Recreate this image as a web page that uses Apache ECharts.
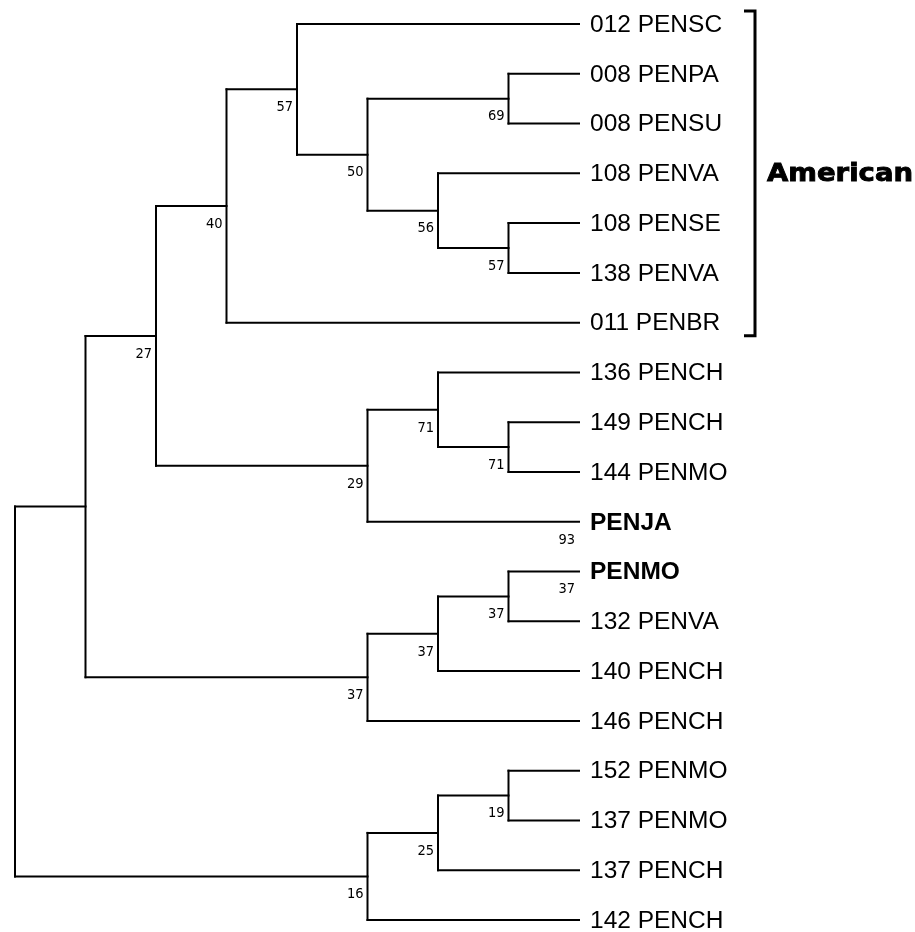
<!DOCTYPE html>
<html>
<head>
<meta charset="utf-8">
<script src="https://cdn.jsdelivr.net/npm/echarts@6/dist/echarts.min.js"></script>
<style>
  html, body { margin: 0; padding: 0; background: #ffffff; }
  #chart { width: 915px; height: 932px; }
</style>
</head>
<body>
<div id="chart"></div>
<script>
// Tip labels, listed top to bottom
const taxa = [
  '012 PENSC', '008 PENPA', '008 PENSU', '108 PENVA', '108 PENSE', '138 PENVA',
  '011 PENBR', '136 PENCH', '149 PENCH', '144 PENMO', 'PENJA', 'PENMO',
  '132 PENVA', '140 PENCH', '146 PENCH', '152 PENMO', '137 PENMO', '137 PENCH',
  '142 PENCH'
];
// Tips printed in bold
const boldTaxa = ['PENJA', 'PENMO'];
// Clades, each given as [first tip, last tip]
const clades = [
  [0, 18], [0, 14], [0, 10], [0, 6], [0, 5], [1, 5], [1, 2], [3, 5], [4, 5],
  [7, 10], [7, 9], [8, 9], [11, 14], [11, 13], [11, 12], [15, 18], [15, 17], [15, 16]
];
// Bootstrap support of each clade above (null: not printed)
const cladeSupport = [null, null, 27, 40, 57, 50, 69, 56, 57, 29, 71, 71, 37, 37, 37, 16, 25, 19];
// Support values printed under single tips
const tipSupportIndex = [10, 11];
const tipSupportValue = [93, 37];
// Bracketed group of tips
const groupName = 'American';
const groupTips = [0, 6];

// ---- build the tree from the clade ranges ----
const nodes = taxa.map((name, i) => ({ lo: i, hi: i, leaf: true, name, children: [] }));
clades.forEach((c, k) => nodes.push({ lo: c[0], hi: c[1], leaf: false, support: cladeSupport[k], children: [] }));
const cladeNodes = nodes.filter(n => !n.leaf);
nodes.forEach(n => {
  let best = null;
  cladeNodes.forEach(c => {
    if (c === n) return;
    if (c.lo <= n.lo && c.hi >= n.hi && (c.hi - c.lo) > (n.hi - n.lo)) {
      if (!best || (c.hi - c.lo) < (best.hi - best.lo)) best = c;
    }
  });
  n.parent = best;
  if (best) best.children.push(n);
});
const root = nodes.find(n => !n.parent);
function height(n) {
  if (n.leaf) return (n.h = 0);
  n.children.sort((a, b) => a.lo - b.lo);
  n.h = 1 + Math.max(...n.children.map(height));
  return n.h;
}
const rootHeight = height(root);
function place(n) {
  n.x = rootHeight - n.h;
  if (n.leaf) { n.y = n.lo; return; }
  n.children.forEach(place);
  n.y = (n.children[0].y + n.children[n.children.length - 1].y) / 2;
}
place(root);

// branch segments [x1, y1, x2, y2]
const segments = [];
nodes.forEach(n => {
  if (n.parent) segments.push([n.parent.x, n.y, n.x, n.y]);
  if (!n.leaf) segments.push([n.x, n.children[0].y, n.x, n.children[n.children.length - 1].y]);
});
const tipLabels = nodes.filter(n => n.leaf).map(n => [n.x, n.y, n.name]);
const supportLabels = [];
nodes.forEach(n => { if (!n.leaf && n.support != null) supportLabels.push([n.x, n.y, n.support]); });
tipSupportIndex.forEach((t, k) => supportLabels.push([nodes[t].x, nodes[t].y, tipSupportValue[k]]));

const chart = echarts.init(document.getElementById('chart'), null, { renderer: 'canvas' });
chart.setOption({
  backgroundColor: '#ffffff',
  animation: false,
  grid: { left: 15, top: 24, width: 564, height: 896 },
  xAxis: { type: 'value', min: 0, max: rootHeight, show: false },
  yAxis: { type: 'value', min: 0, max: taxa.length - 1, inverse: true, show: false },
  series: [
    {
      type: 'custom',
      name: 'branches',
      data: segments,
      renderItem: (params, api) => {
        const a = api.coord([api.value(0), api.value(1)]);
        const b = api.coord([api.value(2), api.value(3)]);
        return {
          type: 'line',
          shape: { x1: a[0], y1: a[1], x2: b[0], y2: b[1] },
          style: { stroke: '#000000', lineWidth: 2, lineCap: 'square' }
        };
      }
    },
    {
      type: 'custom',
      name: 'tips',
      data: tipLabels,
      renderItem: (params, api) => {
        const p = api.coord([api.value(0), api.value(1)]);
        const name = tipLabels[params.dataIndex][2];
        const bold = boldTaxa.indexOf(name) >= 0;
        return {
          type: 'text',
          style: {
            text: name, x: p[0] + 11, y: p[1] + 1,
            fontFamily: '"Liberation Sans", Arial, sans-serif',
            fontSize: 24.5, fontWeight: bold ? 'bold' : 'normal',
            fill: '#000000', align: 'left', verticalAlign: 'middle'
          }
        };
      }
    },
    {
      type: 'custom',
      name: 'support',
      data: supportLabels,
      renderItem: (params, api) => {
        const p = api.coord([api.value(0), api.value(1)]);
        return {
          type: 'text',
          style: {
            text: String(supportLabels[params.dataIndex][2]), x: p[0] - 4, y: p[1] + 18,
            fontFamily: '"DejaVu Sans Condensed", "DejaVu Sans", Verdana, sans-serif', fontSize: 14.5,
            fill: '#000000', align: 'right', verticalAlign: 'middle'
          }
        };
      }
    },
    {
      type: 'custom',
      name: 'group',
      data: [groupTips],
      renderItem: (params, api) => {
        const top = api.coord([rootHeight, api.value(0)]);
        const bottom = api.coord([rootHeight, api.value(1)]);
        const bx = top[0] + 176;
        const y0 = top[1] - 13, y1 = bottom[1] + 13;
        return {
          type: 'group',
          children: [
            {
              type: 'polyline',
              shape: { points: [[bx - 11, y0], [bx, y0], [bx, y1], [bx - 11, y1]] },
              style: { stroke: '#000000', lineWidth: 3, fill: null, lineJoin: 'miter' }
            },
            {
              type: 'text',
              x: bx + 12, y: (y0 + y1) / 2 + 1,
              scaleX: 1.1,
              style: {
                text: groupName, x: 0, y: 0,
                fontFamily: '"DejaVu Sans", sans-serif', fontSize: 25, fontWeight: 'bold',
                fill: '#000000', stroke: '#000000', lineWidth: 0.9,
                align: 'left', verticalAlign: 'middle'
              }
            }
          ]
        };
      }
    }
  ]
});
</script>
</body>
</html>
